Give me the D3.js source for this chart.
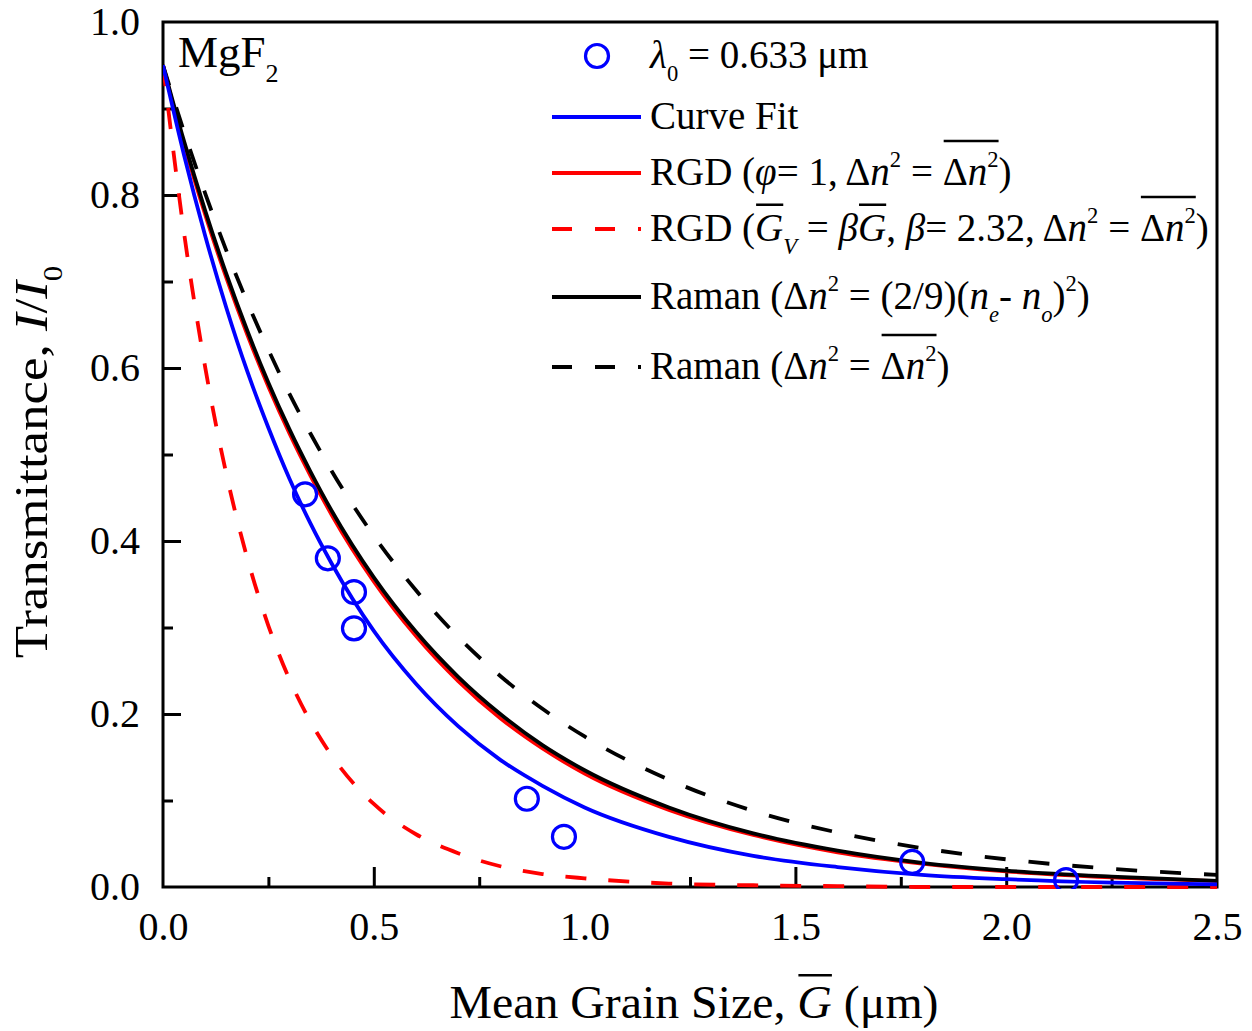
<!DOCTYPE html>
<html>
<head>
<meta charset="utf-8">
<script src="https://cdn.jsdelivr.net/npm/d3@7.9.0/dist/d3.min.js"></script>
<style>
  html, body { margin: 0; padding: 0; background: #fff; }
  svg { display: block; }
  text { font-family: "Liberation Serif", "Times New Roman", serif; fill: #000; white-space: pre; }
</style>
</head>
<body>
<svg id="chart" width="1252" height="1031"></svg>
<script>
/* ---------- Data ---------- */
// grain sizes (um) where the model curves were read
const gridX = [0, 0.05, 0.1, 0.15, 0.2, 0.25, 0.3, 0.35, 0.4, 0.5, 0.6, 0.7, 0.8, 0.9, 1.0, 1.2, 1.4, 1.6, 1.8, 2.0, 2.25, 2.5];
const curveFit = [0.950, 0.846, 0.753, 0.670, 0.596, 0.531, 0.472, 0.420, 0.374, 0.296, 0.235, 0.186, 0.147, 0.117, 0.092, 0.058, 0.036, 0.023, 0.014, 0.009, 0.005, 0.003];
const rgdPhi1  = [0.950, 0.858, 0.777, 0.704, 0.638, 0.578, 0.524, 0.475, 0.430, 0.353, 0.290, 0.238, 0.195, 0.160, 0.131, 0.089, 0.060, 0.040, 0.027, 0.018, 0.011, 0.007];
const rgdBeta  = [0.950, 0.756, 0.601, 0.478, 0.380, 0.302, 0.240, 0.191, 0.152, 0.096, 0.061, 0.039, 0.024, 0.015, 0.010, 0.004, 0.002, 0.001, 0.000, 0.000, 0.000, 0.000];
const ramanNe  = [0.950, 0.862, 0.782, 0.709, 0.643, 0.583, 0.529, 0.480, 0.435, 0.358, 0.295, 0.243, 0.200, 0.164, 0.135, 0.092, 0.062, 0.042, 0.028, 0.019, 0.012, 0.007];
const ramanAvg = [0.950, 0.873, 0.802, 0.736, 0.676, 0.621, 0.570, 0.524, 0.481, 0.406, 0.343, 0.289, 0.244, 0.206, 0.174, 0.124, 0.088, 0.063, 0.045, 0.032, 0.021, 0.014];

// measured points, lambda0 = 0.633 um
const measuredG = [0.337, 0.391, 0.453, 0.453, 0.863, 0.951, 1.777, 2.142];
const measuredT = [0.454, 0.380, 0.341, 0.299, 0.102, 0.058, 0.029, 0.008];

const xMajor = [0, 0.5, 1.0, 1.5, 2.0, 2.5];
const xMinor = [0.25, 0.75, 1.25, 1.75, 2.25];
const yMajor = [0, 0.2, 0.4, 0.6, 0.8, 1.0];
const yMinor = [0.1, 0.3, 0.5, 0.7, 0.9];

/* ---------- Layout ---------- */
const svg = d3.select('#chart');
const L = 163, R = 1217, T = 22, B = 887;
const x = d3.scaleLinear().domain([0, 2.5]).range([L, R]);
const y = d3.scaleLinear().domain([0, 1.0]).range([B, T]);

const BLUE = '#0000ff', RED = '#ff0000';

/* ---------- Rich text helper (italic / sub / sup / overline) ---------- */
// text sits in its own <g> so it can be stretched a little along its run (sx)
function rich(parent, px, py, segs, size, anchor = 'start', sx = 1) {
  const g = parent.append('g').attr('transform', `translate(${px},${py}) scale(${sx},1)`);
  const t = g.append('text')
    .attr('x', 0).attr('y', 0)
    .attr('font-size', size)
    .attr('text-anchor', anchor);
  let shift = 0, idx = 0;
  const groups = {};
  segs.forEach(s => {
    const target = s.sub ? size * 0.33 : s.sup ? -size * 0.46 : 0;
    const ts = t.append('tspan').text(s.t).attr('dy', target - shift);
    shift = target;
    if (s.sub || s.sup) ts.attr('font-size', size * 0.58);
    if (s.i) ts.attr('font-style', 'italic');
    if (s.ov) {
      const gr = groups[s.ov] || (groups[s.ov] = { a: idx, b: idx, sup: false });
      gr.b = idx + s.t.length - 1;
      if (s.sup) gr.sup = true;
    }
    idx += s.t.length;
  });
  const node = t.node();
  Object.values(groups).forEach(gr => {
    const x0 = node.getStartPositionOfChar(gr.a).x;
    const x1 = node.getEndPositionOfChar(gr.b).x;
    const oy = -(gr.sup ? 1.13 : 0.93) * size;
    g.append('line')
      .attr('x1', x0 + 1).attr('x2', x1)
      .attr('y1', oy).attr('y2', oy)
      .attr('stroke', '#000').attr('stroke-width', 2.5);
  });
  return t;
}

/* ---------- Axes ---------- */
svg.append('g').attr('transform', `translate(0,${B})`)
  .call(d3.axisBottom(x).tickValues(xMajor).tickSize(-20).tickSizeOuter(0)
    .tickPadding(25).tickFormat(d3.format('.1f')));
svg.append('g').attr('transform', `translate(0,${B})`)
  .call(d3.axisBottom(x).tickValues(xMinor).tickSize(-10).tickSizeOuter(0).tickFormat(''));
svg.append('g').attr('transform', `translate(${L},0)`)
  .call(d3.axisLeft(y).tickValues(yMajor).tickSize(-18).tickSizeOuter(0)
    .tickPadding(23).tickFormat(d3.format('.1f')));
svg.append('g').attr('transform', `translate(${L},0)`)
  .call(d3.axisLeft(y).tickValues(yMinor).tickSize(-10).tickSizeOuter(0).tickFormat(''));

svg.selectAll('g').attr('font-family', null).attr('font-size', null);
svg.selectAll('.tick line').attr('stroke', '#000').attr('stroke-width', 3);
svg.selectAll('.domain').remove();
svg.selectAll('.tick text').attr('font-size', 40).attr('fill', '#000');
// end ticks sit on the frame anyway
svg.selectAll('.tick line').filter(d => d === 0 || d === 2.5 || d === 1.0).remove();

// frame
svg.append('rect')
  .attr('x', L).attr('y', T).attr('width', R - L).attr('height', B - T)
  .attr('fill', 'none').attr('stroke', '#000').attr('stroke-width', 3);

/* ---------- Curves ---------- */
svg.append('clipPath').attr('id', 'plotClip')
  .append('rect').attr('x', L).attr('y', T).attr('width', R - L).attr('height', B - T + 2);

const plot = svg.append('g').attr('clip-path', 'url(#plotClip)');
const line = d3.line().x(d => x(d[0])).y(d => y(d[1])).curve(d3.curveMonotoneX);
const zipped = vals => gridX.map((g, i) => [g, vals[i]]);

const series = [
  { vals: rgdBeta,  color: RED,    w: 3.8, dash: '21,22' },
  { vals: ramanAvg, color: '#000', w: 3.8, dash: '21,23' },
  { vals: rgdPhi1,  color: RED,    w: 3.5, dash: null },
  { vals: ramanNe,  color: '#000', w: 3.8, dash: null },
  { vals: curveFit, color: BLUE,   w: 3.8, dash: null }
];
series.forEach(s => {
  plot.append('path')
    .attr('d', line(zipped(s.vals)))
    .attr('fill', 'none')
    .attr('stroke', s.color)
    .attr('stroke-width', s.w)
    .attr('stroke-dasharray', s.dash);
});

plot.selectAll('circle.pt')
  .data(measuredG.map((g, i) => [g, measuredT[i]]))
  .enter().append('circle')
  .attr('class', 'pt')
  .attr('cx', d => x(d[0])).attr('cy', d => y(d[1]))
  .attr('r', 11.5)
  .attr('fill', 'none').attr('stroke', BLUE).attr('stroke-width', 3.2);

/* ---------- Legend ---------- */
const lg = svg.append('g');
const lx0 = 552, lx1 = 641, tx = 650, fs = 39;

lg.append('circle').attr('cx', 597).attr('cy', 56).attr('r', 11.5)
  .attr('fill', 'none').attr('stroke', BLUE).attr('stroke-width', 3.2);
rich(lg, tx, 68, [{ t: 'λ', i: 1 }, { t: '0', sub: 1 }, { t: ' = 0.633 μm' }], fs);

const legendRows = [
  { y: 117, color: BLUE, dash: null, w: 3.8,
    segs: [{ t: 'Curve Fit' }] },
  { y: 173, color: RED, dash: null, w: 3.8,
    segs: [{ t: 'RGD (' }, { t: 'φ', i: 1 }, { t: '= 1, Δ' }, { t: 'n', i: 1 }, { t: '2', sup: 1 }, { t: ' = ' },
           { t: 'Δ', ov: 'a' }, { t: 'n', i: 1, ov: 'a' }, { t: '2', sup: 1, ov: 'a' }, { t: ')' }] },
  { y: 229, color: RED, dash: '20,23', w: 3.8,
    segs: [{ t: 'RGD (' }, { t: 'G', i: 1, ov: 'g1' }, { t: 'V', i: 1, sub: 1 }, { t: ' = ' }, { t: 'β', i: 1 },
           { t: 'G', i: 1, ov: 'g2' }, { t: ', ' }, { t: 'β', i: 1 }, { t: '= 2.32, Δ' }, { t: 'n', i: 1 }, { t: '2', sup: 1 },
           { t: ' = ' }, { t: 'Δ', ov: 'a' }, { t: 'n', i: 1, ov: 'a' }, { t: '2', sup: 1, ov: 'a' }, { t: ')' }] },
  { y: 297, color: '#000', dash: null, w: 3.8,
    segs: [{ t: 'Raman (Δ' }, { t: 'n', i: 1 }, { t: '2', sup: 1 }, { t: ' = (2/9)(' }, { t: 'n', i: 1 }, { t: 'e', i: 1, sub: 1 },
           { t: '- ' }, { t: 'n', i: 1 }, { t: 'o', i: 1, sub: 1 }, { t: ')' }, { t: '2', sup: 1 }, { t: ')' }] },
  { y: 367, color: '#000', dash: '20,23', w: 3.8,
    segs: [{ t: 'Raman (Δ' }, { t: 'n', i: 1 }, { t: '2', sup: 1 }, { t: ' = ' },
           { t: 'Δ', ov: 'a' }, { t: 'n', i: 1, ov: 'a' }, { t: '2', sup: 1, ov: 'a' }, { t: ')' }] }
];
legendRows.forEach(r => {
  lg.append('line').attr('x1', lx0).attr('x2', lx1).attr('y1', r.y).attr('y2', r.y)
    .attr('stroke', r.color).attr('stroke-width', r.w).attr('stroke-dasharray', r.dash);
  rich(lg, tx, r.y + 12, r.segs, fs);
});

/* ---------- Labels ---------- */
rich(svg, 178, 67, [{ t: 'MgF' }, { t: '2', sub: 1 }], 45);

rich(svg, 694, 1018, [{ t: 'Mean Grain Size, ' }, { t: 'G', i: 1, ov: 'g' }, { t: ' (μm)' }], 46, 'middle', 1.04);

const yt = svg.append('g').attr('transform', 'translate(47,462) rotate(-90)');
rich(yt, 0, 0, [{ t: 'Transmittance, ' }, { t: 'I', i: 1 }, { t: '/' }, { t: 'I', i: 1 }, { t: '0', sub: 1 }], 46, 'middle', 1.15);
</script>
</body>
</html>
